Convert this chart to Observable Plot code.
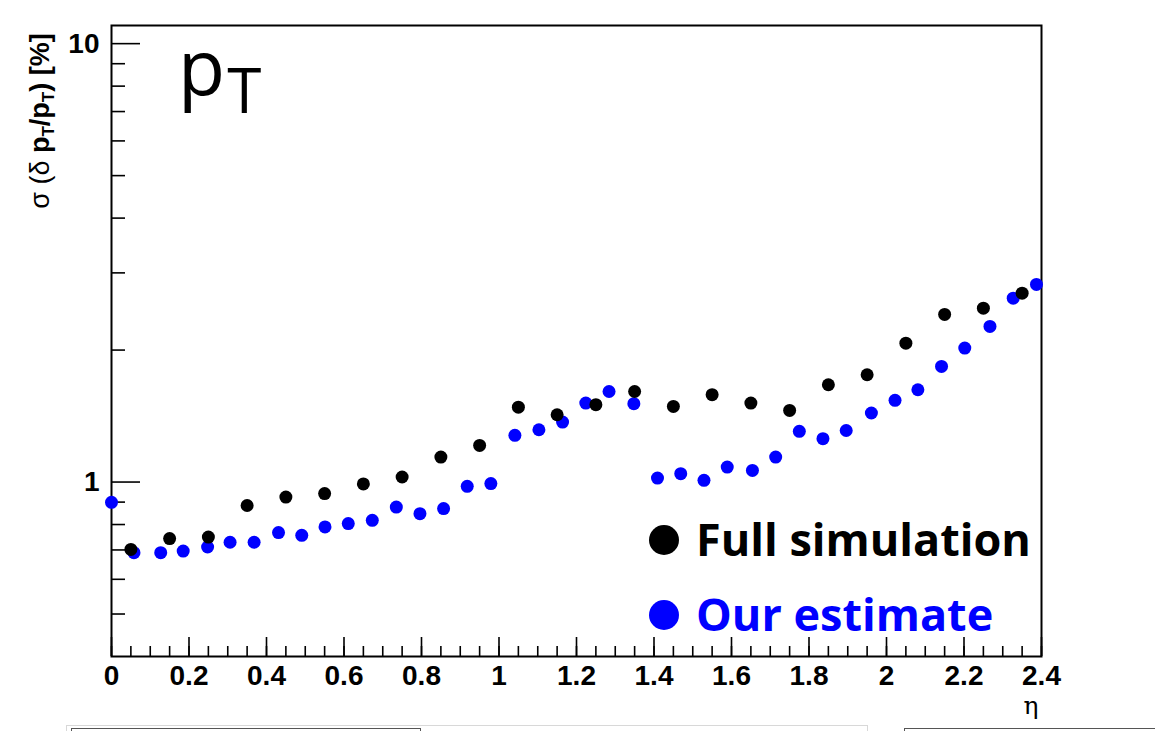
<!DOCTYPE html>
<html>
<head>
<meta charset="utf-8">
<script src="https://cdn.jsdelivr.net/npm/d3@7"></script>
<script src="https://cdn.jsdelivr.net/npm/@observablehq/plot@0.6"></script>
<style>
  body { margin: 0; background: #fff; overflow: hidden; }
  #wrap { position: relative; width: 1155px; height: 731px; }
  .strip { position: absolute; box-sizing: border-box; background: #fff; }
</style>
</head>
<body>
<div id="wrap"></div>
<script>
// Transverse-momentum resolution versus pseudorapidity
const etaFull = [0.05, 0.15, 0.25, 0.35, 0.45, 0.55, 0.65, 0.75, 0.85, 0.95, 1.05, 1.15,
                 1.25, 1.35, 1.45, 1.55, 1.65, 1.75, 1.85, 1.95, 2.05, 2.15, 2.25, 2.35];
const resFull = [0.702, 0.743, 0.749, 0.884, 0.924, 0.941, 0.99, 1.027, 1.14, 1.212, 1.482, 1.424,
                 1.501, 1.609, 1.488, 1.582, 1.514, 1.457, 1.667, 1.757, 2.074, 2.412, 2.492, 2.697];

const etaEst = [0.0, 0.058, 0.127, 0.185, 0.248, 0.306, 0.368, 0.431, 0.491, 0.551, 0.611, 0.673,
                0.735, 0.796, 0.857, 0.918, 0.979, 1.041, 1.103, 1.164, 1.224, 1.284, 1.348, 1.409,
                1.469, 1.529, 1.589, 1.654, 1.714, 1.775, 1.836, 1.896, 1.961, 2.022, 2.081, 2.142,
                2.202, 2.267, 2.327, 2.387];
const resEst = [0.899, 0.69, 0.69, 0.696, 0.711, 0.729, 0.729, 0.767, 0.756, 0.79, 0.804, 0.818,
                0.877, 0.847, 0.87, 0.978, 0.992, 1.278, 1.316, 1.37, 1.514, 1.609, 1.509, 1.021,
                1.045, 1.009, 1.082, 1.063, 1.14, 1.305, 1.256, 1.311, 1.437, 1.536, 1.624, 1.835,
                2.021, 2.264, 2.627, 2.823];

const xMajorTicks = [0, 0.2, 0.4, 0.6, 0.8, 1, 1.2, 1.4, 1.6, 1.8, 2, 2.2, 2.4];
const xMinorTicks = d3.range(0, 49).map(i => i * 0.05);
const yMajorTicks = [1, 10];
const yMinorTicks = [0.5, 0.6, 0.7, 0.8, 0.9, 2, 3, 4, 5, 6, 7, 8, 9];

const seriesNames = ["Full simulation", "Our estimate"];
const seriesColors = ["#000000", "#0000ff"];

const full = etaFull.map((eta, i) => ({eta, res: resFull[i]}));
const est = etaEst.map((eta, i) => ({eta, res: resEst[i]}));

const tickFont = {fontSize: 28, fontWeight: "bold", fontFamily: "Liberation Sans, Arial, sans-serif"};
const blank = () => "";

const chart = Plot.plot({
  width: 1155,
  height: 731,
  marginLeft: 111,
  marginRight: 114,
  marginTop: 25,
  marginBottom: 75,
  style: {background: "white", color: "black", overflow: "visible"},
  x: {domain: [0, 2.4], label: null},
  y: {type: "log", domain: [0.4, 11], label: null},
  marks: [
    // inward-pointing ticks
    Plot.axisX(xMinorTicks, {tickSize: -10, tickFormat: blank, label: null, strokeWidth: 1.6}),
    Plot.axisX(xMajorTicks, {tickSize: -19, tickFormat: blank, label: null, strokeWidth: 1.6}),
    Plot.axisY(yMinorTicks, {tickSize: -14, tickFormat: blank, label: null, strokeWidth: 1.6}),
    Plot.axisY(yMajorTicks, {tickSize: -29, tickFormat: blank, label: null, strokeWidth: 1.6}),
    // tick labels
    Plot.axisX(xMajorTicks, {tickSize: 0, tickPadding: 9, label: null,
      tickFormat: d => String(+d.toFixed(2)), ...tickFont}),
    Plot.axisY(yMajorTicks, {tickSize: 0, tickPadding: 12, label: null,
      tickFormat: d => String(d), ...tickFont}),
    Plot.frame({stroke: "black", strokeWidth: 2}),
    Plot.dot(est, {x: "eta", y: "res", r: 6.5, fill: seriesColors[1], stroke: null}),
    Plot.dot(full, {x: "eta", y: "res", r: 6.5, fill: seriesColors[0], stroke: null})
  ]
});

document.getElementById("wrap").appendChild(chart);

const svg = d3.select(chart);

// y-axis title: σ (δ pT/pT) [%]
const yTitle = svg.append("text")
  .attr("transform", "translate(49,121) rotate(-90)")
  .attr("text-anchor", "middle")
  .attr("font-family", "Liberation Sans, Arial, sans-serif")
  .attr("font-size", 27)
  .attr("fill", "black");
yTitle.append("tspan").text("σ (δ ");
yTitle.append("tspan").attr("font-weight", "bold").text("p");
yTitle.append("tspan").attr("font-weight", "bold").attr("font-size", 17).attr("dy", 5).text("T");
yTitle.append("tspan").attr("font-weight", "bold").attr("dy", -5).text("/p");
yTitle.append("tspan").attr("font-weight", "bold").attr("font-size", 17).attr("dy", 5).text("T");
yTitle.append("tspan").attr("font-weight", "bold").attr("dy", -5).text(") [%]");

// x-axis title
svg.append("text")
  .attr("x", 1031).attr("y", 714)
  .attr("text-anchor", "middle")
  .attr("font-family", "DejaVu Serif, serif")
  .attr("font-size", 25)
  .attr("fill", "black")
  .text("η");

// panel label pT
const pt = svg.append("text")
  .attr("x", 178).attr("y", 95)
  .attr("text-anchor", "start")
  .attr("font-family", "Open Sans, sans-serif")
  .attr("font-size", 77)
  .attr("fill", "black");
pt.append("tspan").text("p");
pt.append("tspan").attr("font-size", 62).attr("dy", 18).attr("dx", 2).text("T");

// legend
const legendRows = [540, 615];
seriesNames.forEach((name, i) => {
  const g = svg.append("g");
  g.append("circle").attr("cx", 664).attr("cy", legendRows[i]).attr("r", 15).attr("fill", seriesColors[i]);
  g.append("text")
    .attr("x", 696).attr("y", legendRows[i] + 16)
    .attr("text-anchor", "start")
    .attr("font-family", "Open Sans, sans-serif")
    .attr("font-weight", "bold")
    .attr("font-size", 45)
    .attr("fill", seriesColors[i])
    .text(name);
});

// strips of neighbouring panels along the bottom edge
const wrap = document.getElementById("wrap");
[
  {left: 66, top: 725, width: 802, height: 10, border: "1px solid #d8d8d8"},
  {left: 71, top: 728, width: 350, height: 10, border: "1.5px solid #555"},
  {left: 904, top: 728, width: 260, height: 10, border: "1.5px solid #555"}
].forEach(s => {
  const d = document.createElement("div");
  d.className = "strip";
  Object.assign(d.style, {left: s.left + "px", top: s.top + "px", width: s.width + "px",
    height: s.height + "px", border: s.border});
  wrap.appendChild(d);
});
</script>
</body>
</html>
